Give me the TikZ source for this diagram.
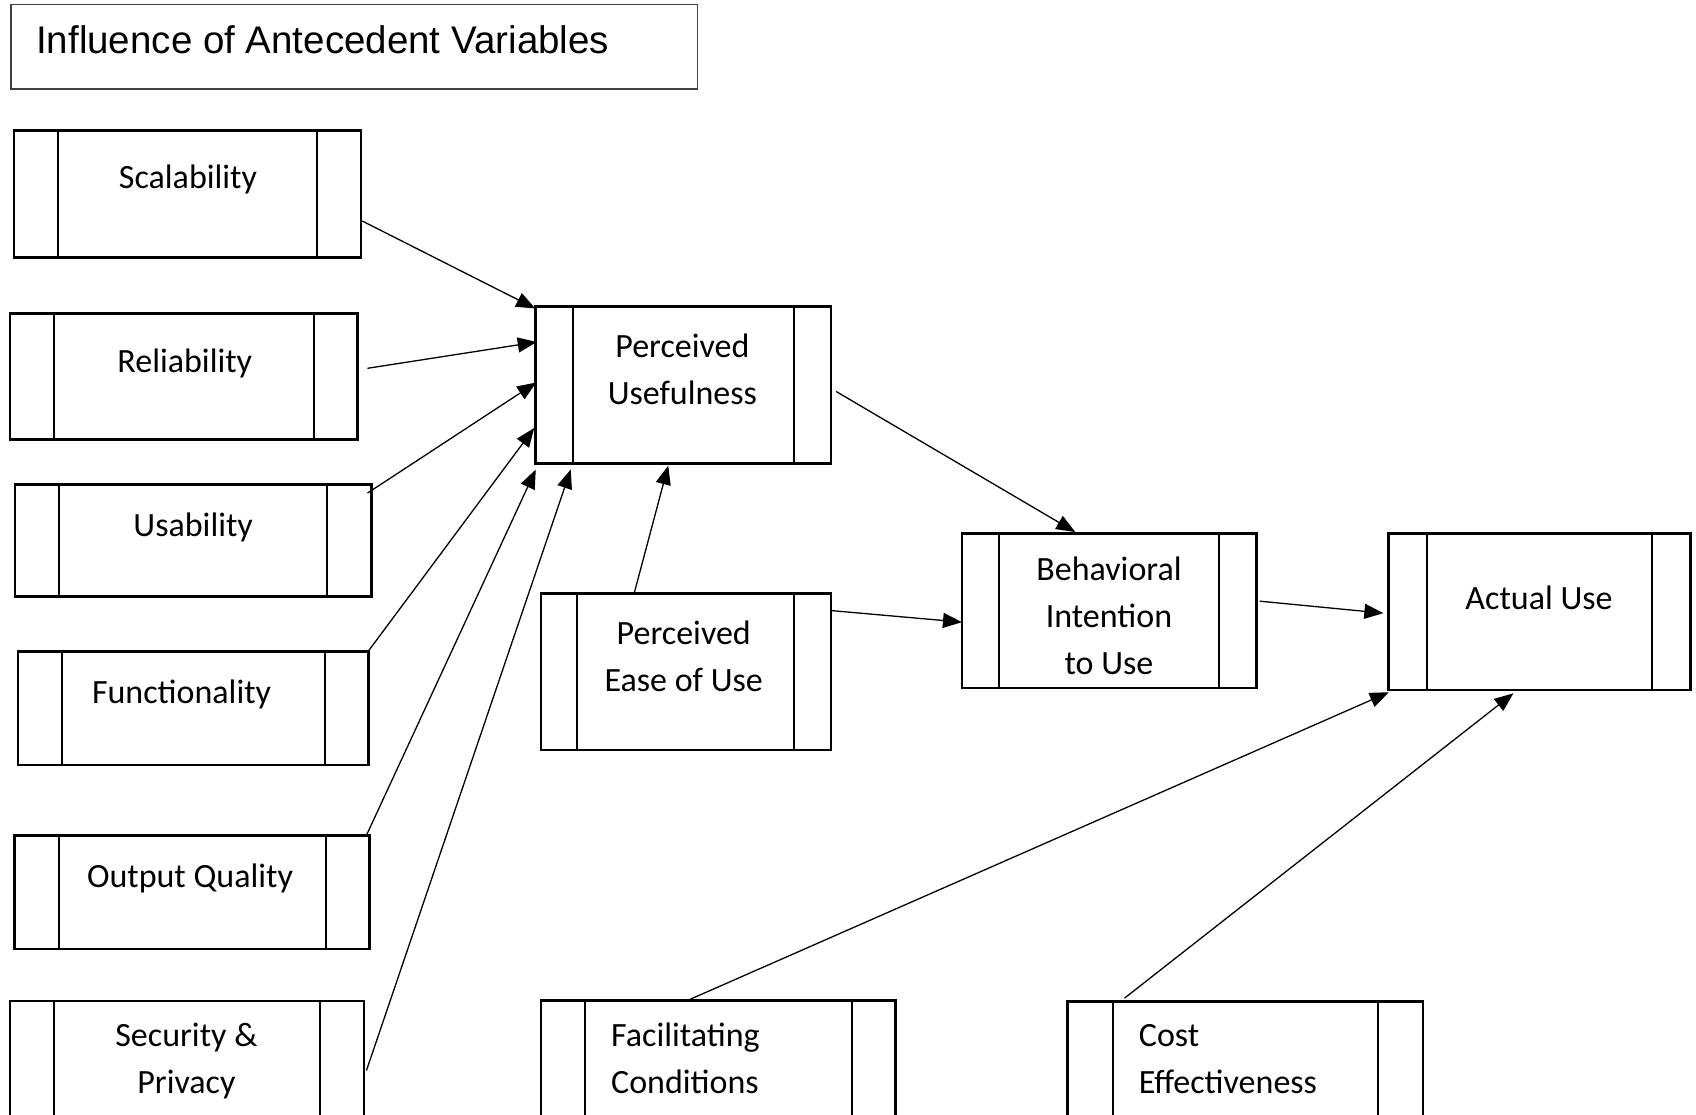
\documentclass[tikz,border=0pt]{standalone}
\usepackage{fontspec}
\setmainfont{Carlito}
\newfontfamily\titlefont{Liberation Sans}
\usetikzlibrary{arrows.meta,calc}
\begin{document}
\begin{tikzpicture}[x=1pt,y=-1pt,
  pbox/.style={draw, line width=2.5pt, inner sep=0pt, rectangle,
    path picture={\draw[line width=2pt]
      ([xshift=#1]path picture bounding box.north west) -- ([xshift=#1]path picture bounding box.south west)
      ([xshift=-#1]path picture bounding box.north east) -- ([xshift=-#1]path picture bounding box.south east);}},
  pbox/.default=44pt,
  lbl/.style={font=\fontsize{34}{47}\selectfont, inner sep=0pt, anchor=base, align=center},
  lbll/.style={font=\fontsize{34}{47}\selectfont, inner sep=0pt, anchor=base west, align=left},
  conn/.style={line width=1.3pt, -{Triangle[length=19pt,width=15pt]}}]
\useasboundingbox (0,0) rectangle (1696,1114);
\fill[white] (0,0) rectangle (1696,1114);
\clip (0,0) rectangle (1696,1114);

% title
\node[draw=black!75, line width=1.5pt, minimum width=686.8pt, minimum height=84.5pt, inner sep=0pt] (title) at (354.2,46.75) {};
\node[font=\titlefont\fontsize{38.5}{44}\selectfont, inner sep=0pt, anchor=base west] (titletext) at (36,53) {Influence of Antecedent Variables};

% left column
\node[pbox, minimum width=347.2pt, minimum height=126.6pt] (scal) at (187.4,194) {};
\node[lbl] (scalt) at (188,188) {Scalability};
\node[pbox, minimum width=347.9pt, minimum height=126pt] (rel) at (183.75,376.3) {};
\node[lbl] (relt) at (184.8,372) {Reliability};
\node[pbox, minimum width=356.1pt, minimum height=112.4pt] (usa) at (193.25,540.5) {};
\node[lbl] (usat) at (193.2,536.7) {Usability};
\node[pbox, minimum width=350.7pt, minimum height=113.3pt] (func) at (193.25,708.35) {};
\node[lbl] (funct) at (181.6,703) {Functionality};
\node[pbox, minimum width=355pt, minimum height=113.3pt] (outq) at (192.1,892.35) {};
\node[lbl] (outqt) at (190,887) {Output Quality};
\node[pbox, minimum width=354.4pt, minimum height=129pt] (sec) at (187,1065.5) {};
\node[lbl] (sect) at (186.4,1093) {Security \&\\Privacy};

% middle
\node[pbox=37pt, minimum width=295.4pt, minimum height=156.6pt] (pu) at (683.2,385) {};
\node[lbl] (put) at (682.4,404) {Perceived\\Usefulness};
\node[pbox=36.5pt, minimum width=290pt, minimum height=156.7pt] (peou) at (685.9,671.65) {};
\node[lbl] (peout) at (683.7,691) {Perceived\\Ease of Use};
\node[pbox=37pt, minimum width=294.2pt, minimum height=154.7pt] (bi) at (1109.3,610.65) {};
\node[lbl] (bit) at (1109,674) {Behavioral\\Intention\\to Use};
\node[pbox=38pt, minimum width=301.7pt, minimum height=156.7pt] (au) at (1539.45,611.65) {};
\node[lbl] (aut) at (1539,609) {Actual Use};

% bottom
\node[pbox=44pt, minimum width=354.8pt, minimum height=129.5pt] (fc) at (718.2,1065.25) {};
\node[lbll] (fct) at (611,1093) {Facilitating\\Conditions};
\node[pbox=45pt, minimum width=355.5pt, minimum height=128.6pt] (ce) at (1245.25,1065.7) {};
\node[lbll] (cet) at (1138.7,1093.4) {Cost\\Effectiveness};

% connectors
\draw[conn] ($(scal.east)+(0,27)$) -- ($(pu.north west)+(1,3)$);
\draw[conn] ($(rel.east)+(8.5,-8)$) -- ($(pu.west)+(2.5,-43)$);
\draw[conn] ($(usa.north east)+(-5,10)$) -- ($(pu.west)+(2,-2.5)$);
\draw[conn] ($(func.north east)+(-1,0)$) -- ($(pu.west)+(0,43)$);
\draw[conn] ($(outq.north east)+(-4,0)$) -- ($(pu.south west)+(1.5,5)$);
\draw[conn] ($(sec.east)+(1,5)$) -- ($(pu.south west)+(36.5,5)$);
\draw[conn] ($(peou.north)+(-51.4,0)$) -- ($(pu.south)+(-15,1)$);
\draw[conn] ($(pu.east)+(4,6.5)$) -- ($(bi.north)+(-34,0)$);
\draw[conn] ($(peou.east)+(0,-61)$) -- ($(bi.west)+(1,11.5)$);
\draw[conn] ($(bi.east)+(2,-9.5)$) -- ($(au.west)+(-4,1.5)$);
\draw[conn] ($(fc.north)+(-28,0)$) -- ($(au.south west)+(1.5,1)$);
\draw[conn] ($(ce.north)+(-120.75,-2)$) -- ($(au.south)+(-26,2)$);
\end{tikzpicture}
\end{document}
